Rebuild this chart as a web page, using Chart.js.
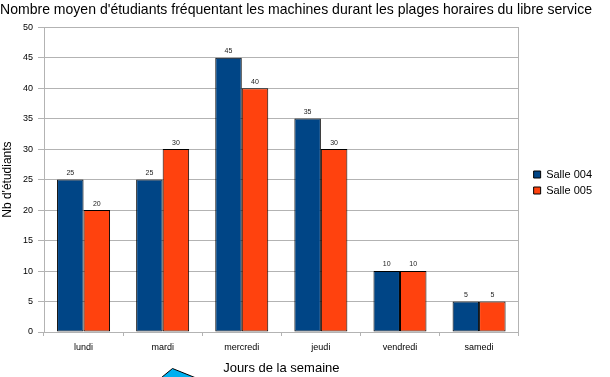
<!DOCTYPE html>
<html>
<head>
<meta charset="utf-8">
<script src="https://cdn.jsdelivr.net/npm/chart.js@4/dist/chart.umd.min.js"></script>
<style>
  html, body { margin: 0; padding: 0; background: #fff; }
  #wrap { width: 610px; height: 377px; position: relative; }
</style>
</head>
<body>
<div id="wrap"><canvas id="chart"></canvas></div>
<script>
// Données
const jours = ['lundi', 'mardi', 'mercredi', 'jeudi', 'vendredi', 'samedi'];
const salle004 = [25, 25, 45, 35, 10, 5];
const salle005 = [20, 30, 40, 30, 10, 5];

const police = '"Liberation Sans", Arial, sans-serif';
const gris = '#b3b3b3';

// Valeurs au-dessus des barres
const etiquettes = {
  id: 'etiquettes',
  afterDatasetsDraw(chart) {
    const ctx = chart.ctx;
    ctx.save();
    ctx.font = '7px ' + police;
    ctx.fillStyle = '#222';
    ctx.textAlign = 'center';
    ctx.textBaseline = 'bottom';
    chart.data.datasets.forEach((ds, i) => {
      chart.getDatasetMeta(i).data.forEach((bar, j) => {
        ctx.fillText(ds.data[j], bar.x, bar.y - 3);
      });
    });
    ctx.restore();
  }
};

// Décale la légende et dessine le petit triangle en bas
const deco = {
  id: 'deco',
  afterLayout(chart) {
    chart.legend.left += 10;
    chart.legend.right += 10;
    chart.legend.top -= 6;
    chart.legend.bottom -= 6;
  },
  afterDraw(chart) {
    const ctx = chart.ctx;
    ctx.save();
    ctx.beginPath();
    ctx.moveTo(172.5, 368.5);
    ctx.lineTo(156, 382);
    ctx.lineTo(206, 382);
    ctx.closePath();
    ctx.fillStyle = '#00b0f0';
    ctx.fill();
    ctx.strokeStyle = '#000';
    ctx.lineWidth = 1;
    ctx.stroke();
    ctx.restore();
  }
};

new Chart(document.getElementById('chart'), {
  type: 'bar',
  data: {
    labels: jours,
    datasets: [
      { label: 'Salle 004', data: salle004, backgroundColor: '#004586', borderColor: '#000', borderWidth: 1, borderSkipped: false },
      { label: 'Salle 005', data: salle005, backgroundColor: '#ff420e', borderColor: '#000', borderWidth: 1, borderSkipped: false }
    ]
  },
  options: {
    responsive: true,
    maintainAspectRatio: false,
    animation: false,
    layout: { padding: { left: 0, right: 18, top: 0, bottom: 0 } },
    datasets: { bar: { categoryPercentage: 0.67, barPercentage: 1.0 } },
    plugins: {
      title: {
        display: true,
        text: "Nombre moyen d'étudiants fréquentant les machines durant les plages horaires du libre service",
        color: '#000',
        font: { family: police, size: 14.3, weight: 'normal' },
        padding: { top: 1, bottom: 9 }
      },
      legend: {
        position: 'right',
        labels: {
          color: '#000',
          font: { family: police, size: 11 },
          boxWidth: 7,
          boxHeight: 7,
          padding: 5
        }
      },
      tooltip: { enabled: false }
    },
    scales: {
      x: {
        grid: { display: true, drawOnChartArea: false, drawTicks: true, tickLength: 4, color: gris, offset: true },
        border: { display: true, color: gris },
        ticks: { color: '#000', font: { family: police, size: 9 }, padding: 6, maxRotation: 0 },
        title: {
          display: true,
          text: 'Jours de la semaine',
          color: '#000',
          font: { family: police, size: 13 },
          padding: { top: 0, bottom: 1 }
        },
        afterFit(scale) { scale.height = 45; }
      },
      y: {
        min: 0,
        max: 50,
        ticks: { stepSize: 5, color: '#000', font: { family: police, size: 9 }, padding: 5 },
        grid: { color: gris, tickLength: 6 },
        border: { display: true, color: gris },
        title: {
          display: true,
          text: "Nb d'étudiants",
          color: '#000',
          font: { family: police, size: 12 },
          padding: { top: 0, bottom: 0 }
        },
        afterFit(scale) { scale.width = 44; }
      },
      y2: {
        position: 'right',
        min: 0,
        max: 50,
        grid: { display: false },
        border: { display: true, color: gris },
        ticks: { display: false },
        afterFit(scale) { scale.width = 0; }
      }
    }
  },
  plugins: [etiquettes, deco]
});
</script>
</body>
</html>
